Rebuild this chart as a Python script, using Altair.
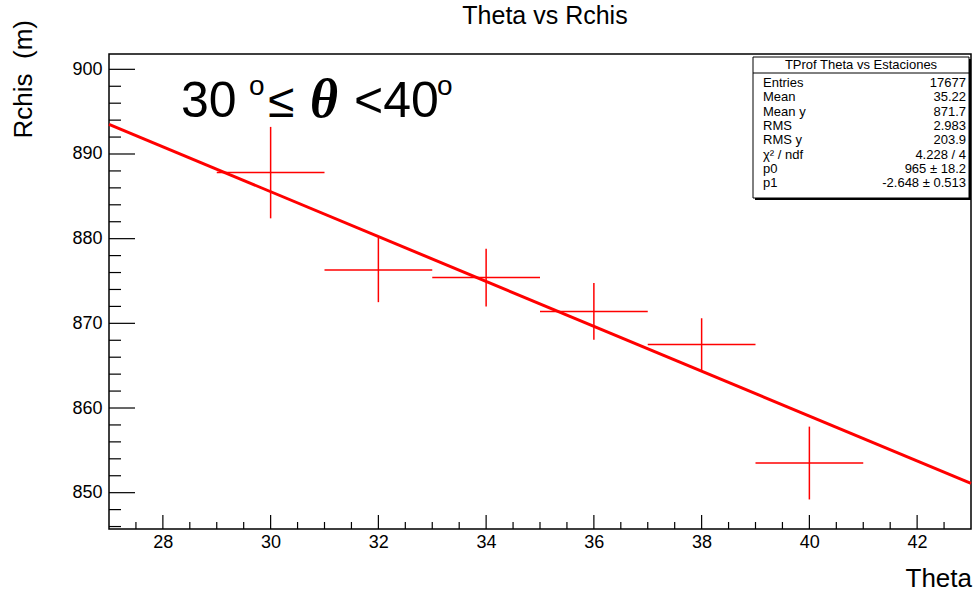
import altair as alt
import pandas as pd

# ---- data ----
theta = [30, 32, 34, 36, 38, 40]
rchis = [887.8, 876.3, 875.4, 871.4, 867.5, 853.5]
rchis_err = [5.4, 3.8, 3.4, 3.35, 3.1, 4.3]
bin_half = [1, 1, 1, 1, 1, 1]

fit_x = [27, 43]
fit_y = [893.5, 851.1]

x_major = [28, 30, 32, 34, 36, 38, 40, 42]
x_minor = [27.5, 28.5, 29, 29.5, 30.5, 31, 31.5, 32.5, 33, 33.5, 34.5, 35, 35.5,
           36.5, 37, 37.5, 38.5, 39, 39.5, 40.5, 41, 41.5, 42.5]
y_major = [850, 860, 870, 880, 890, 900]
y_minor = [846, 848, 852, 854, 856, 858, 862, 864, 866, 868, 872, 874, 876, 878,
           882, 884, 886, 888, 892, 894, 896, 898]

stat_header = "TProf Theta vs Estaciones"
stat_names = ["Entries", "Mean", "Mean y", "RMS", "RMS y", "χ² / ndf", "p0", "p1"]
stat_values = ["17677", "35.22", "871.7", "2.983", "203.9", "4.228 / 4",
               "965 ± 18.2", "-2.648 ± 0.513"]

W, H = 862, 475
FONT = "Liberation Sans"
RED = "#ff0000"

xs = alt.Scale(domain=[27, 43], nice=False, zero=False)
ys = alt.Scale(domain=[845.71, 901.81], nice=False, zero=False)
xaxis = alt.Axis(values=x_major, ticks=False, grid=False, domain=False,
                 labelFont=FONT, labelFontSize=18, labelColor="black",
                 labelPadding=4, title=None)
yaxis = alt.Axis(values=y_major, ticks=False, grid=False, domain=False,
                 labelFont=FONT, labelFontSize=18, labelColor="black",
                 labelPadding=7, title=None)

pts = pd.DataFrame({
    "theta": theta,
    "rchis": rchis,
    "xlo": [t - h for t, h in zip(theta, bin_half)],
    "xhi": [t + h for t, h in zip(theta, bin_half)],
    "ylo": [r - e for r, e in zip(rchis, rchis_err)],
    "yhi": [r + e for r, e in zip(rchis, rchis_err)],
})

hbars = alt.Chart(pts).mark_rule(color=RED, strokeWidth=1.5).encode(
    x=alt.X("xlo:Q", scale=xs, axis=xaxis),
    x2="xhi:Q",
    y=alt.Y("rchis:Q", scale=ys, axis=yaxis),
)
vbars = alt.Chart(pts).mark_rule(color=RED, strokeWidth=1.5).encode(
    x=alt.X("theta:Q", scale=xs, axis=xaxis),
    y=alt.Y("ylo:Q", scale=ys, axis=yaxis),
    y2="yhi:Q",
)
fit = alt.Chart(pd.DataFrame({"x": fit_x, "y": fit_y})).mark_line(
    color=RED, strokeWidth=3).encode(
    x=alt.X("x:Q", scale=xs, axis=xaxis),
    y=alt.Y("y:Q", scale=ys, axis=yaxis),
)

# inward ticks (ROOT style)
def xticks(vals, length):
    return alt.Chart(pd.DataFrame({"v": vals})).mark_rule(color="black", strokeWidth=1.2).encode(
        x=alt.X("v:Q", scale=xs, axis=xaxis),
        y=alt.value(H), y2=alt.value(H - length))

def yticks(vals, length):
    return alt.Chart(pd.DataFrame({"v": vals})).mark_rule(color="black", strokeWidth=1.2).encode(
        y=alt.Y("v:Q", scale=ys, axis=yaxis),
        x=alt.value(0), x2=alt.value(length))

def txt(s, x, y, size, align="left", font=FONT, angle=0, style="normal",
        baseline="alphabetic", weight="normal"):
    return alt.Chart(pd.DataFrame({"t": [s]})).mark_text(
        font=font, fontSize=size, align=align, baseline=baseline, angle=angle,
        fontStyle=style, fontWeight=weight, color="black").encode(
        text="t:N", x=alt.value(x), y=alt.value(y))

OX, OY = 109, 54  # plot-area origin in page pixels

labels = [
    txt("Theta vs Rchis", 545 - OX, 24 - OY, 25, align="center"),
    txt("Theta", 972 - OX, 587 - OY, 26, align="right"),
    txt("Rchis\u00a0\u00a0(m)", 24 - OX, 20 - OY, 26, align="right", angle=270, baseline="middle"),
    # annotation "30 °≤ θ <40°"
    txt("30", 181 - OX, 117 - OY, 50),
    txt("o", 249 - OX, 95 - OY, 28),
    txt("≤", 268 - OX, 117 - OY, 48),
    txt("θ", 310 - OX, 117 - OY, 54, font="Liberation Serif", style="italic", weight="bold"),
    txt("<40", 354 - OX, 117 - OY, 50),
    txt("o", 437 - OX, 95 - OY, 28),
]

# stats box
BX0, BY0, BX1, BY1 = 753 - OX, 57 - OY, 969 - OX, 198 - OY
shadow = alt.Chart(pd.DataFrame({"a": [0]})).mark_rect(color="black").encode(
    x=alt.value(BX0 + 2), x2=alt.value(BX1 + 2), y=alt.value(BY0 + 2), y2=alt.value(BY1 + 2))
box = alt.Chart(pd.DataFrame({"a": [0]})).mark_rect(
    fill="white", stroke="black", strokeWidth=1).encode(
    x=alt.value(BX0), x2=alt.value(BX1), y=alt.value(BY0), y2=alt.value(BY1))
sep = alt.Chart(pd.DataFrame({"a": [0]})).mark_rule(color="black", strokeWidth=1).encode(
    x=alt.value(BX0), x2=alt.value(BX1), y=alt.value(73 - OY))
stats = [shadow, box, sep,
         txt(stat_header, (BX0 + BX1) / 2, 69 - OY, 13, align="center")]
for i, (n, v) in enumerate(zip(stat_names, stat_values)):
    yb = 87 - OY + i * 14.3
    stats.append(txt(n, 763 - OX, yb, 13))
    stats.append(txt(v, 966 - OX, yb, 13, align="right"))

chart = alt.layer(
    hbars, vbars, fit,
    xticks(x_major, 14), xticks(x_minor, 7),
    yticks(y_major, 26), yticks(y_minor, 12),
    *labels, *stats,
).properties(
    width=W, height=H,
    autosize=alt.AutoSizeParams(type="none"),
    padding={"left": OX, "top": OY, "right": 976 - OX - W, "bottom": 592 - OY - H},
    background="white",
).configure_view(stroke="black", strokeWidth=1.5)

chart.save("out.html", embed_options={"renderer": "svg", "actions": False})
